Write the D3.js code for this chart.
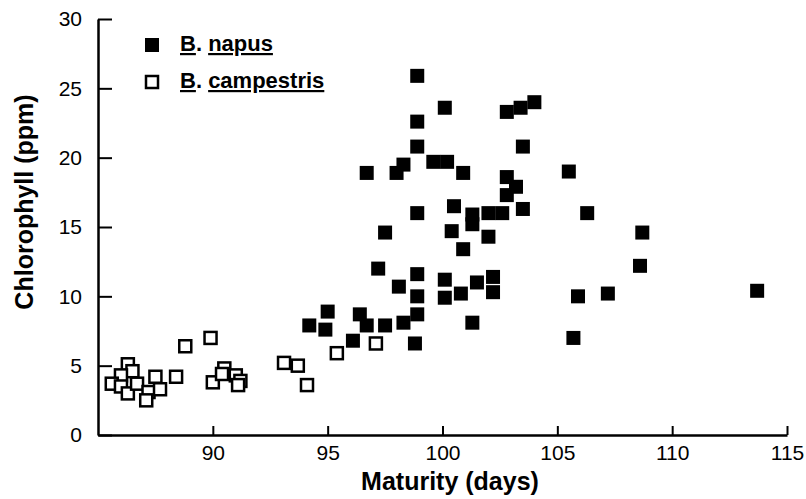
<!DOCTYPE html>
<html>
<head>
<meta charset="utf-8">
<script src="https://cdn.jsdelivr.net/npm/d3@7"></script>
<style>
  body { margin: 0; background: #fff; }
  text { font-family: "Liberation Sans", Arial, Helvetica, sans-serif; fill: #000; }
</style>
</head>
<body>
<script>
// B. napus (filled squares)
var napusDays = [98.9, 100.1, 102.8, 103.4, 104.0, 98.9, 103.5, 98.9, 96.7, 98.0,
                 98.3, 99.6, 100.2, 100.9, 102.8, 103.2, 102.8, 103.5, 98.9, 100.5,
                 101.3, 101.3, 102.0, 102.6, 100.4, 102.0, 100.9, 97.5, 97.2, 98.9,
                 98.1, 100.1, 100.1, 100.8, 101.5, 102.2, 102.2, 98.9, 98.9, 98.3,
                 97.5, 96.4, 96.7, 95.0, 94.2, 94.9, 96.1, 98.8, 101.3, 105.5,
                 106.3, 108.7, 108.6, 105.9, 107.2, 113.7, 105.7];
var napusChl = [25.9, 23.6, 23.3, 23.6, 24.0, 22.6, 20.8, 20.8, 18.9, 18.9,
                19.5, 19.7, 19.7, 18.9, 18.6, 17.9, 17.3, 16.3, 16.0, 16.5,
                15.9, 15.2, 16.0, 16.0, 14.7, 14.3, 13.4, 14.6, 12.0, 11.6,
                10.7, 11.2, 9.9, 10.2, 11.0, 11.4, 10.3, 10.0, 8.7, 8.1,
                7.9, 8.7, 7.9, 8.9, 7.9, 7.6, 6.8, 6.6, 8.1, 19.0,
                16.0, 14.6, 12.2, 10.0, 10.2, 10.4, 7.0];

// B. campestris (open squares)
var campDays = [88.8, 89.9, 86.3, 86.5, 86.0, 85.6, 86.0, 86.3, 86.7, 87.2,
                87.1, 87.5, 87.7, 88.4, 90.0, 90.5, 90.4, 91.0, 91.2, 91.1,
                93.1, 93.7, 94.1, 95.4, 97.1];
var campChl = [6.4, 7.0, 5.1, 4.6, 4.3, 3.7, 3.5, 3.0, 3.7, 3.1,
               2.5, 4.2, 3.3, 4.2, 3.8, 4.8, 4.4, 4.3, 3.9, 3.6,
               5.2, 5.0, 3.6, 5.9, 6.6];

var xTicks = [90, 95, 100, 105, 110, 115],
    yTicks = [0, 5, 10, 15, 20, 25, 30];

;(() => {
    var width = 806, height = 499;
    var mLeft = 98, mRight = 787, mTop = 19, mBottom = 435; // plot edges in px
    var S = 14; // marker size

    var svg = d3.select('body').append('svg')
        .attr('width', width)
        .attr('height', height);

    var x = d3.scaleLinear().domain([85, 115]).range([mLeft, mRight]),
        y = d3.scaleLinear().domain([0, 30]).range([mBottom, mTop]);

    // axes, ticks point inwards
    var xAxis = svg.append('g')
        .attr('transform', 'translate(0,' + mBottom + ')')
        .call(d3.axisBottom(x).tickValues(xTicks).tickSizeInner(-9).tickSizeOuter(0).tickPadding(10));
    var yAxis = svg.append('g')
        .attr('transform', 'translate(' + mLeft + ',0)')
        .call(d3.axisLeft(y).tickValues(yTicks).tickSizeInner(-14).tickSizeOuter(0).tickPadding(16));

    [xAxis, yAxis].forEach(a => {
        a.select('.domain').attr('stroke', '#000').attr('stroke-width', 2.5);
        a.selectAll('.tick line').attr('stroke', '#000').attr('stroke-width', 2);
        a.selectAll('.tick text')
            .style('font-family', '"Liberation Sans", Arial, sans-serif')
            .style('font-size', '21px')
            .attr('fill', '#000');
    });

    // axis titles
    svg.append('text')
        .attr('x', 450).attr('y', 490)
        .attr('text-anchor', 'middle')
        .style('font-size', '25px').style('font-weight', 'bold')
        .text('Maturity (days)');

    svg.append('text')
        .attr('transform', 'translate(33,202) rotate(-90)')
        .attr('text-anchor', 'middle')
        .style('font-size', '25px').style('font-weight', 'bold')
        .text('Chlorophyll (ppm)');

    // points
    var napus = napusDays.map((d, i) => ({ x: d, y: napusChl[i] })),
        camp = campDays.map((d, i) => ({ x: d, y: campChl[i] }));

    svg.append('g').selectAll('rect')
        .data(camp)
        .enter().append('rect')
        .attr('x', d => x(d.x) - S / 2 + 1)
        .attr('y', d => y(d.y) - S / 2 + 1)
        .attr('width', S - 2).attr('height', S - 2)
        .attr('fill', '#fff')
        .attr('stroke', '#000')
        .attr('stroke-width', 2.5);

    svg.append('g').selectAll('rect')
        .data(napus)
        .enter().append('rect')
        .attr('x', d => x(d.x) - S / 2)
        .attr('y', d => y(d.y) - S / 2)
        .attr('width', S).attr('height', S)
        .attr('fill', '#000');

    // legend
    var legend = [
        { name: 'napus', filled: true, cy: 45 },
        { name: 'campestris', filled: false, cy: 82 }
    ];
    var lg = svg.append('g').selectAll('g')
        .data(legend)
        .enter().append('g')
        .attr('transform', d => 'translate(152,' + d.cy + ')');
    lg.append('rect')
        .attr('x', d => d.filled ? -7 : -6)
        .attr('y', d => d.filled ? -7 : -6)
        .attr('width', d => d.filled ? 14 : 12)
        .attr('height', d => d.filled ? 14 : 12)
        .attr('fill', d => d.filled ? '#000' : '#fff')
        .attr('stroke', '#000')
        .attr('stroke-width', d => d.filled ? 0 : 2.5);
    var lt = lg.append('text')
        .attr('x', 28).attr('y', 6)
        .style('font-size', '22px').style('font-weight', 'bold');
    lt.append('tspan').style('text-decoration', 'underline').text('B');
    lt.append('tspan').text('. ');
    lt.append('tspan').style('text-decoration', 'underline').text(d => d.name);
})();
</script>
</body>
</html>
